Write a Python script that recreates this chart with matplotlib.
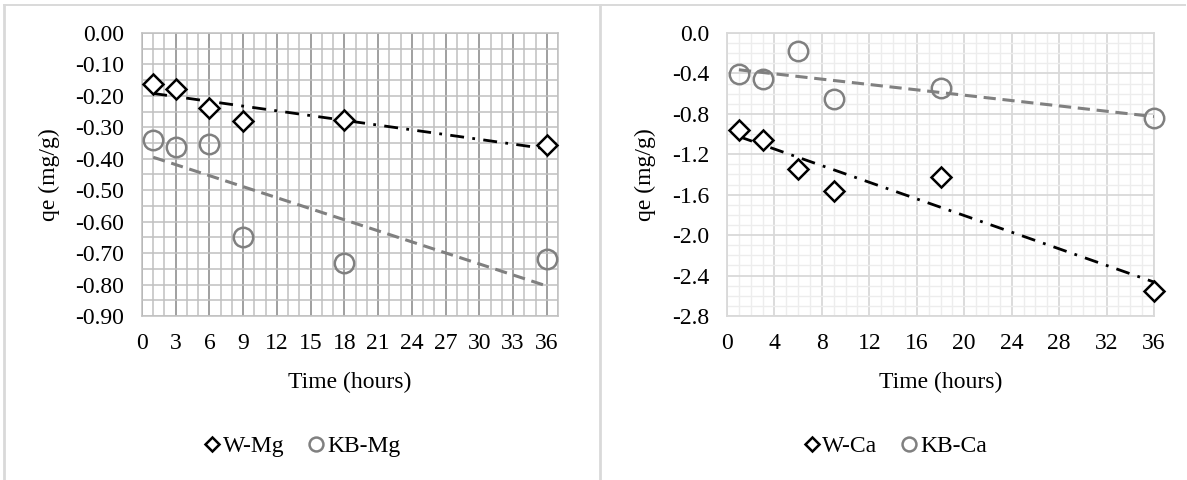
import numpy as np
import matplotlib.pyplot as plt
from matplotlib.lines import Line2D
from matplotlib.ticker import MultipleLocator

plt.rcParams['font.family'] = ['Liberation Serif', 'DejaVu Serif']
plt.rcParams['font.size'] = 17

# Temps de contact (heures)
temps = [1, 3, 6, 9, 18, 36]

# Capacités qe (mg/g)
w_mg = [-0.163, -0.177, -0.237, -0.281, -0.276, -0.357]
kb_mg = [-0.340, -0.363, -0.352, -0.650, -0.731, -0.719]
w_ca = [-0.958, -1.063, -1.347, -1.568, -1.420, -2.549]
kb_ca = [-0.403, -0.452, -0.180, -0.654, -0.543, -0.840]

# graduations
yt_mg = [0.0, -0.1, -0.2, -0.3, -0.4, -0.5, -0.6, -0.7, -0.8, -0.9]
yt_ca = [0.0, -0.4, -0.8, -1.2, -1.6, -2.0, -2.4, -2.8]

noir = 'black'
gris = '#808080'

fig = plt.figure(figsize=(11.87, 4.8), dpi=100)


def tracer(ax, y_w, y_kb):
    x = np.array(temps, dtype=float)
    ax.plot(x, y_w, linestyle='none', marker='D', ms=10.5, mfc='white',
            mec=noir, mew=1.8, zorder=4, clip_on=False)
    ax.plot(x, y_kb, linestyle='none', marker='o', ms=14, mfc='none',
            mec=gris, mew=1.8, zorder=4, clip_on=False)
    # droites de tendance (moindres carrés)
    xs = np.array([x.min(), x.max()])
    a, b = np.polyfit(x, y_w, 1)
    ax.plot(xs, a * xs + b, color=noir, lw=2.0, dashes=(5, 3, 1, 3), zorder=3)
    a, b = np.polyfit(x, y_kb, 1)
    ax.plot(xs, a * xs + b, color=gris, lw=2.2, dashes=(4, 2.2), zorder=3)
    ax.set_xlabel('Time (hours)', labelpad=13)
    ax.set_ylabel('qe (mg/g)', labelpad=11)
    ax.tick_params(axis='x', length=0, pad=12)
    ax.tick_params(axis='y', length=0, pad=13)
    ax.tick_params(which='minor', length=0)
    ax.set_axisbelow(True)


# --- Mg ---
ax1 = fig.add_axes([0.1196, 0.3417, 0.3505, 0.5896])
tracer(ax1, w_mg, kb_mg)
ax1.set_xlim(0, 37)
ax1.set_ylim(-0.9, 0)
ax1.set_xticks(np.arange(0, 37, 3))
ax1.xaxis.set_minor_locator(MultipleLocator(1))
ax1.set_yticks(yt_mg)
ax1.set_yticklabels([f'{v:.2f}' if v else '0.00' for v in yt_mg])
ax1.yaxis.set_minor_locator(MultipleLocator(0.05))
ax1.grid(which='major', axis='x', color='#868686', lw=1.1)
ax1.grid(which='minor', axis='x', color='#c0c0c0', lw=1.1)
ax1.grid(which='both', axis='y', color='#c0c0c0', lw=1.1)
for s in ax1.spines.values():
    s.set_color('#c0c0c0')
    s.set_linewidth(1.1)

# --- Ca ---
ax2 = fig.add_axes([0.6125, 0.3417, 0.3597, 0.5896])
tracer(ax2, w_ca, kb_ca)
ax2.set_xlim(0, 36)
ax2.set_ylim(-2.8, 0)
ax2.set_xticks(np.arange(0, 37, 4))
ax2.xaxis.set_minor_locator(MultipleLocator(1))
ax2.set_yticks(yt_ca)
ax2.set_yticklabels([f'{v:.1f}' if v else '0.0' for v in yt_ca])
ax2.yaxis.set_minor_locator(MultipleLocator(0.1))
ax2.grid(which='major', color='#d9d9d9', lw=1.3)
ax2.grid(which='minor', color='#ededed', lw=1.0)
for s in ax2.spines.values():
    s.set_color('#d9d9d9')
    s.set_linewidth(1.3)


def legende(cx, lab_w, lab_kb):
    poignees = [
        Line2D([], [], linestyle='none', marker='D', ms=7, mfc='white', mec=noir, mew=1.8),
        Line2D([], [], linestyle='none', marker='o', ms=10, mfc='none', mec=gris, mew=1.8),
    ]
    fig.legend(poignees, [lab_w, lab_kb], loc='center', bbox_to_anchor=(cx, 1 - 446 / 480),
               ncol=2, frameon=False, handlelength=0.7, handletextpad=0.1,
               columnspacing=1.0, fontsize=17)


legende(302 / 1187, 'W-Mg', 'KB-Mg')
legende(895 / 1187, 'W-Ca', 'KB-Ca')

# cadres des deux graphiques
W, H = 1187, 480
bord = '#d9d9d9'
for (x0, x1) in [(4, 599), (600, 1185)]:
    fig.add_artist(Line2D([x0 / W, x1 / W], [1 - 5 / H, 1 - 5 / H], color=bord, lw=1.4))
    fig.add_artist(Line2D([x0 / W, x0 / W], [0, 1 - 5 / H], color=bord, lw=2.0))

fig.savefig('out.png', dpi=100)
